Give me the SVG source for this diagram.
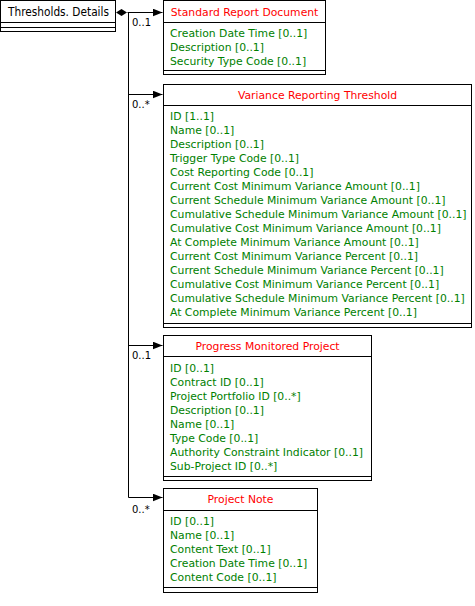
<svg xmlns="http://www.w3.org/2000/svg" width="475" height="606" viewBox="0 0 475 606">
<defs>
<marker id="arr" viewBox="0 0 10 8" refX="10" refY="4" markerWidth="10" markerHeight="8" markerUnits="userSpaceOnUse" orient="auto">
<path d="M0,0 L10,4 L0,8 Z" fill="#000"/>
</marker>
</defs>
<style>
.box{fill:#fff;stroke:#000;stroke-width:1}
.ln{stroke:#000;stroke-width:1;fill:none}
text{font-family:"DejaVu Sans",sans-serif;font-size:10.8px}
.t{fill:#ff0000;text-anchor:middle}
.a{fill:#008000}
.m{fill:#000;font-size:10px}
.h{fill:#000;font-size:11.5px}
</style>
<rect width="475" height="606" fill="#fff"/>
<g id="connectors">
<path class="ln" d="M127.5,12.5 H162.5" marker-end="url(#arr)"/>
<path d="M116,12.5 L121.5,9 L127,12.5 L121.5,16 Z" fill="#000"/>
<path class="ln" d="M128.5,12.5 V497.5"/>
<path class="ln" d="M128.5,94.5 H162.5" marker-end="url(#arr)"/>
<path class="ln" d="M128.5,345.5 H162.5" marker-end="url(#arr)"/>
<path class="ln" d="M128.5,497.5 H162.5" marker-end="url(#arr)"/>
<text class="m" x="132" y="26">0..1</text>
<text class="m" x="132" y="108">0..*</text>
<text class="m" x="132" y="359">0..1</text>
<text class="m" x="132" y="513">0..*</text>
</g>
<g id="thresholds-details">
<rect class="box" x="0.5" y="0.5" width="115" height="31"/>
<path class="ln" d="M0.5,22.5 H115.5 M0.5,27.5 H115.5"/>
<text class="h" x="8" y="16" textLength="101" lengthAdjust="spacingAndGlyphs">Thresholds. Details</text>
</g>
<g id="standard-report-document">
<rect class="box" x="163.5" y="0.5" width="162" height="74"/>
<path class="ln" d="M163.5,22.5 H325.5 M163.5,70.5 H325.5"/>
<text class="t" x="244.5" y="16">Standard Report Document</text>
<text class="a" x="170" y="37">Creation Date Time [0..1]</text>
<text class="a" x="170" y="51">Description [0..1]</text>
<text class="a" x="170" y="65">Security Type Code [0..1]</text>
</g>
<g id="variance-reporting-threshold">
<rect class="box" x="163.5" y="84.5" width="308" height="243"/>
<path class="ln" d="M163.5,105.5 H471.5 M163.5,323.5 H471.5"/>
<text class="t" x="317.5" y="99">Variance Reporting Threshold</text>
<text class="a" x="170" y="120">ID [1..1]</text>
<text class="a" x="170" y="134">Name [0..1]</text>
<text class="a" x="170" y="148">Description [0..1]</text>
<text class="a" x="170" y="162">Trigger Type Code [0..1]</text>
<text class="a" x="170" y="176">Cost Reporting Code [0..1]</text>
<text class="a" x="170" y="190">Current Cost Minimum Variance Amount [0..1]</text>
<text class="a" x="170" y="204">Current Schedule Minimum Variance Amount [0..1]</text>
<text class="a" x="170" y="218">Cumulative Schedule Minimum Variance Amount [0..1]</text>
<text class="a" x="170" y="232">Cumulative Cost Minimum Variance Amount [0..1]</text>
<text class="a" x="170" y="246">At Complete Minimum Variance Amount [0..1]</text>
<text class="a" x="170" y="260">Current Cost Minimum Variance Percent [0..1]</text>
<text class="a" x="170" y="274">Current Schedule Minimum Variance Percent [0..1]</text>
<text class="a" x="170" y="288">Cumulative Cost Minimum Variance Percent [0..1]</text>
<text class="a" x="170" y="302">Cumulative Schedule Minimum Variance Percent [0..1]</text>
<text class="a" x="170" y="316">At Complete Minimum Variance Percent [0..1]</text>
</g>
<g id="progress-monitored-project">
<rect class="box" x="163.5" y="335.5" width="208" height="145"/>
<path class="ln" d="M163.5,356.5 H371.5 M163.5,476.5 H371.5"/>
<text class="t" x="267.5" y="350">Progress Monitored Project</text>
<text class="a" x="170" y="372">ID [0..1]</text>
<text class="a" x="170" y="386">Contract ID [0..1]</text>
<text class="a" x="170" y="400">Project Portfolio ID [0..*]</text>
<text class="a" x="170" y="414">Description [0..1]</text>
<text class="a" x="170" y="428">Name [0..1]</text>
<text class="a" x="170" y="442">Type Code [0..1]</text>
<text class="a" x="170" y="456">Authority Constraint Indicator [0..1]</text>
<text class="a" x="170" y="470">Sub-Project ID [0..*]</text>
</g>
<g id="project-note">
<rect class="box" x="163.5" y="488.5" width="154" height="104"/>
<path class="ln" d="M163.5,510.5 H317.5 M163.5,587.5 H317.5"/>
<text class="t" x="240.5" y="503">Project Note</text>
<text class="a" x="170" y="525">ID [0..1]</text>
<text class="a" x="170" y="539">Name [0..1]</text>
<text class="a" x="170" y="553">Content Text [0..1]</text>
<text class="a" x="170" y="567">Creation Date Time [0..1]</text>
<text class="a" x="170" y="581">Content Code [0..1]</text>
</g>
</svg>
